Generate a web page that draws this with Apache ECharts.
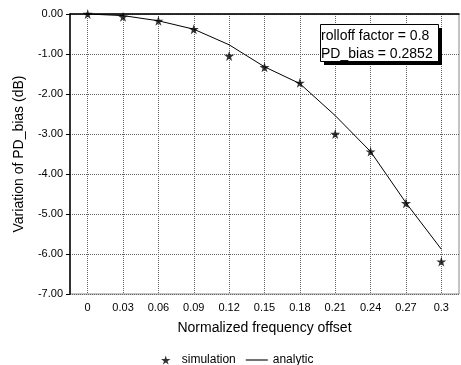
<!DOCTYPE html>
<html>
<head>
<meta charset="utf-8">
<script src="https://cdn.jsdelivr.net/npm/echarts@6/dist/echarts.min.js"></script>
<style>html,body{margin:0;padding:0;background:#fff}#c{width:461px;height:365px}</style>
</head>
<body>
<div id="c"></div>
<script>
const categories = ['0','0.03','0.06','0.09','0.12','0.15','0.18','0.21','0.24','0.27','0.3'];
const simulation = [0.00,-0.07,-0.17,-0.38,-1.05,-1.33,-1.72,-3.00,-3.44,-4.73,-6.19];
const analytic = [0.00,-0.04,-0.17,-0.38,-0.77,-1.32,-1.74,-2.54,-3.44,-4.72,-5.88];
const yTicks = {min:-7, max:0, interval:1};
const noteLines = ['rolloff factor = 0.8','PD_bias = 0.2852'];

const star = 'path://M50,0 L61,35 L98,35 L68,57 L79,91 L50,70 L21,91 L32,57 L2,35 L39,35 Z';
const lineIcon = 'path://M0,0H100V5H0Z';
const font = 'Liberation Sans';
const chart = echarts.init(document.getElementById('c'), null, {renderer:'canvas'});
chart.setOption({
  animation:false,
  backgroundColor:'#fff',
  graphic:[
    {type:'rect', left:324, top:28, z:100, shape:{width:118, height:37}, style:{fill:'#000'}},
    {type:'rect', left:320, top:24, z:101, shape:{width:118, height:37}, style:{fill:'#fff', stroke:'#000', lineWidth:1}},
    {type:'text', left:321, top:27, z:102,
     style:{text:noteLines.join('\n'), font:'14px "Liberation Sans"', fill:'#000', lineHeight:18}}
  ],
  grid:{left:70, right:2, top:14, bottom:71, show:true, borderColor:'#888', borderWidth:1, outerBoundsMode:'none', containLabel:false},
  legend:{
    left:156, top:349,
    itemGap:10, itemWidth:22, itemHeight:9,
    textStyle:{fontFamily:font, fontSize:12, color:'#000'},
    data:[{name:'simulation', icon:star},{name:'analytic', icon:lineIcon}]
  },
  xAxis:{
    type:'category', data:categories, boundaryGap:true,
    name:'Normalized frequency offset', nameLocation:'middle', nameGap:27,
    nameTextStyle:{fontFamily:font, fontSize:14, color:'#000'},
    axisLine:{lineStyle:{color:'#000', width:1.5}},
    axisTick:{alignWithLabel:true, length:4, lineStyle:{color:'#000'}},
    axisLabel:{fontFamily:font, fontSize:11, color:'#000', margin:8, interval:0},
    splitLine:{show:true, alignWithLabel:true, interval:0, lineStyle:{type:'dotted', color:'#666'}}
  },
  yAxis:{
    type:'value', min:yTicks.min, max:yTicks.max, interval:yTicks.interval,
    name:'Variation of PD_bias (dB)', nameLocation:'middle', nameGap:44,
    nameTextStyle:{fontFamily:font, fontSize:14, color:'#000'},
    axisLine:{show:true, lineStyle:{color:'#000', width:1.5}},
    axisTick:{show:true, length:4, lineStyle:{color:'#000'}},
    axisLabel:{fontFamily:font, fontSize:11, color:'#000', margin:7, formatter:v=>v.toFixed(2)},
    splitLine:{show:true, lineStyle:{type:'dotted', color:'#666'}}
  },
  series:[
    {name:'simulation', type:'scatter', data:simulation, symbol:star, symbolSize:10,
     itemStyle:{color:'#000'}, z:3},
    {name:'analytic', type:'line', data:analytic, smooth:false, symbol:'none', showSymbol:false,
     lineStyle:{color:'#000', width:1}, itemStyle:{color:'#000'}}
  ]
});
</script>
</body>
</html>
